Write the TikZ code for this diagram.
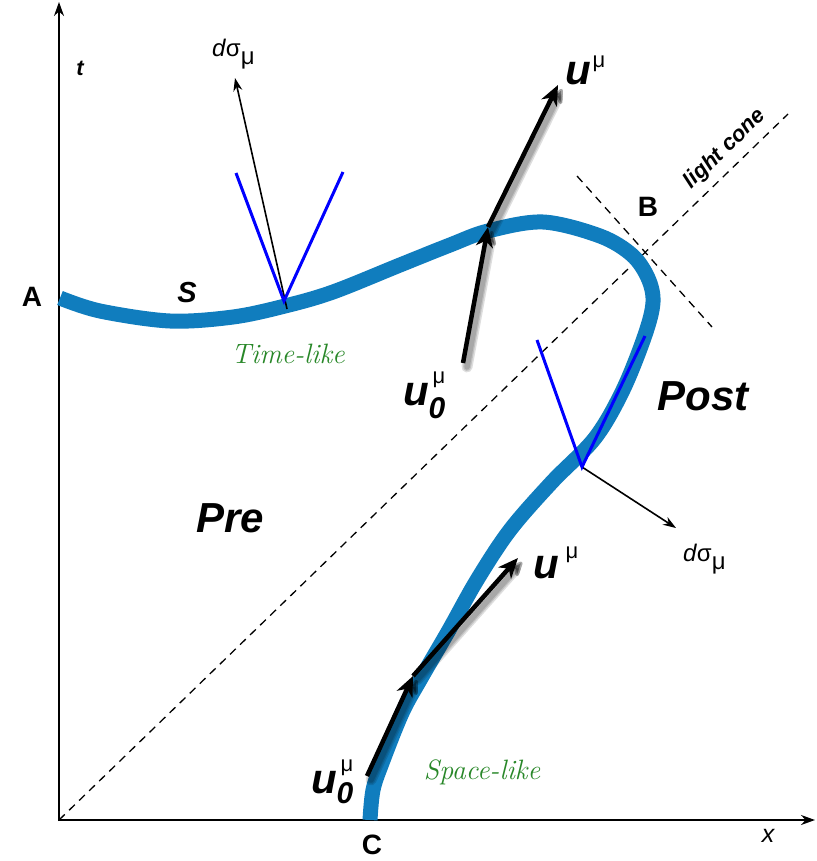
\documentclass[tikz,border=0pt]{standalone}
\usepackage{fontspec}
\setmainfont{Liberation Sans}
\newfontfamily\lmfont{Latin Modern Roman}
\usetikzlibrary{arrows.meta}
\definecolor{surf}{RGB}{16,125,190}
\definecolor{vblue}{RGB}{0,0,255}
\definecolor{vgreen}{RGB}{40,135,40}
\newcommand{\fsz}[1]{\fontsize{#1}{#1}\selectfont}
\begin{document}
\begin{tikzpicture}[x=1pt,y=-1pt,
  lbl/.style={inner sep=0pt,outer sep=0pt},
  axisline/.style={line width=1.8pt,-{Stealth[length=14pt,width=10pt]}},
  cone/.style={line width=1.3pt,dash pattern=on 8pt off 6pt},
  surface/.style={line width=15pt,color=surf},
  vel/.style={line width=4.5pt,-{Stealth[length=20pt,width=17pt,inset=6pt]}},
  velshadow/.style={line width=#1,black,opacity=0.13,line cap=round,-{Stealth[length=20pt,width=17pt,inset=6pt,round]}},
  normalvec/.style={line width=1.6pt,-{Stealth[length=13pt,width=9pt]}},
  vline/.style={line width=3pt,color=vblue},
  bigit/.style={lbl,font=\fsz{42}\bfseries\itshape},
  letter/.style={lbl,font=\fsz{28}\bfseries},
  scriptlbl/.style={lbl,font=\fsz{28}\lmfont\itshape,text=vgreen},
  ulbl/.style={lbl,anchor=base west,font=\fsz{42}\bfseries\itshape},
  dslbl/.style={lbl,anchor=base west,font=\fsz{24}},
]
\useasboundingbox (0,0) rectangle (816,861);
% axes
\coordinate (O) at (59,820);
\coordinate (tEnd) at (59,2);
\coordinate (xEnd) at (815,820);
\draw[axisline] (59,821) -- (tEnd);
\draw[axisline] (58,820) -- (xEnd);
% light cone
\coordinate (coneEnd) at (788,114);
\coordinate (perpA) at (577,176);
\coordinate (perpB) at (712,327);
\draw[cone] (O) -- (coneEnd);
\draw[cone] (perpA) -- (perpB);
% surface
\draw[surface] plot[smooth,tension=0.55] coordinates {
 (60,298) (100,311) (170,321) (233,317) (285,306) (333,292) (400,265)
 (450,245) (488,231) (543,222) (600,236) (632,255) (648,278) (653,302)
 (645,335) (623,390) (595,438) (552,482) (510,530) (477,580) (449,630)
 (420,680) (402,713) (382,763) (373,790) (370,820)};
% top normal and cone
\coordinate (V1) at (284,301);
\coordinate (V1l) at (236,173);
\coordinate (V1r) at (343,172);
\coordinate (n1s) at (287,309);
\coordinate (n1e) at (235,78);
\draw[normalvec] (n1s) -- (n1e);
\draw[vline] (V1l) -- (V1) -- (V1r);
% lower normal and cone
\coordinate (V2) at (582,467);
\coordinate (V2l) at (537,340);
\coordinate (V2r) at (645,336);
\coordinate (n2e) at (676,528);
\draw[normalvec] (V2) -- (n2e);
\draw[vline] (V2l) -- (V2) -- (V2r);
% velocity arrows
\coordinate (u0a) at (463,363);
\coordinate (pa) at (488,227);
\coordinate (ua) at (558,85);
\coordinate (u0b) at (367,776);
\coordinate (pb) at (413,676);
\coordinate (ub) at (518,558);
\foreach \w in {11pt,8pt,5.5pt}{
  \draw[velshadow=\w] ([shift={(4,4)}]u0a) -- ([shift={(4,4)}]pa);
  \draw[velshadow=\w] ([shift={(4,4)}]pa) -- ([shift={(4,4)}]ua);
  \draw[velshadow=\w] ([shift={(4,4)}]u0b) -- ([shift={(4,4)}]pb);
  \draw[velshadow=\w] ([shift={(4,4)}]pb) -- ([shift={(4,4)}]ub);
}
\draw[vel] (u0a) -- (pa);
\draw[vel] (pa) -- (ua);
\draw[vel] (u0b) -- (pb);
\draw[vel] (pb) -- (ub);
% labels
\node[lbl,font=\fsz{22}\bfseries\itshape] (tl) at (80,68) {t};
\node[lbl,font=\fsz{25}\itshape] (xl) at (768,836) {x};
\node[letter] (A) at (32,297) {A};
\node[letter] (B) at (648,207) {B};
\node[letter] (C) at (372,845) {C};
\node[lbl,font=\fsz{29}\bfseries\itshape] (S) at (187,293) {S};
\node[scriptlbl] (tlike) at (288,354) {Time-like};
\node[scriptlbl] (slike) at (482,772) {Space-like};
\node[bigit] (pre) at (230,518) {Pre};
\node[bigit] (post) at (703,396) {Post};
\node[lbl,font=\fsz{22}\bfseries\itshape,rotate=44] (lc) at (725,149) {light cone};
\node[dslbl] (ds1) at (212,57) {\textit{d}σ\raisebox{-8pt}{μ}};
\node[dslbl] (ds2) at (683,561) {\textit{d}σ\raisebox{-8pt}{μ}};
\node[ulbl] (ua-l) at (565,85) {u\hspace{2pt}\raisebox{17pt}{\fsz{22}\normalfont μ}};
\node[ulbl] (ub-l) at (533,578) {u\hspace{7pt}\raisebox{20pt}{\fsz{22}\normalfont μ}};
\node[ulbl] (u0a-l) at (403,405) {u\rlap{\hspace{4pt}\raisebox{22pt}{\fsz{22}\normalfont μ}}\raisebox{-13pt}{\fsz{30}0}};
\node[ulbl] (u0b-l) at (311,793) {u\rlap{\hspace{4pt}\raisebox{22pt}{\fsz{22}\normalfont μ}}\raisebox{-10pt}{\fsz{30}0}};
\end{tikzpicture}
\end{document}
